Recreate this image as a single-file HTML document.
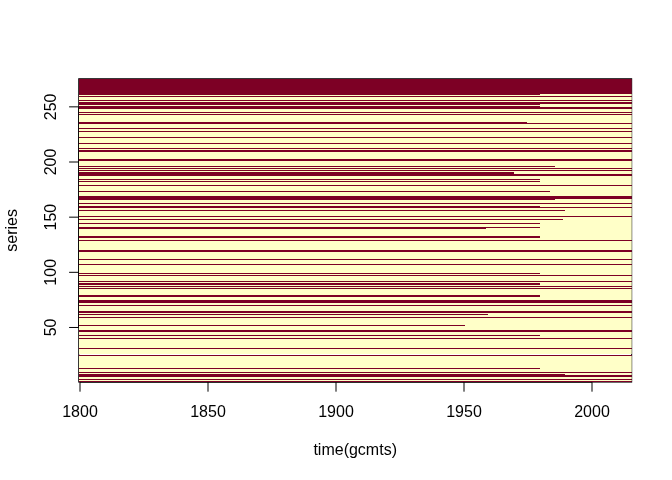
<!DOCTYPE html>
<html><head><meta charset="utf-8"><title>image plot</title>
<style>
html,body{margin:0;padding:0;background:#fff;overflow:hidden;}
svg{display:block;}
g.t{opacity:0.999;}
text{font-family:"Liberation Sans",Arial,Helvetica,sans-serif;font-size:16px;fill:#000;}
</style></head>
<body>
<svg width="672" height="480" viewBox="0 0 672 480">
<defs><clipPath id="pr"><rect x="79" y="79" width="552.68" height="303.08"/></clipPath></defs>
<rect x="0" y="0" width="672" height="480" fill="#fff"/>
<rect x="78.72" y="78.72" width="552.96" height="303.36" fill="none" stroke="#000" stroke-width="1"/>
<g stroke="#000" stroke-width="1" fill="none">
<line x1="80.000" y1="382.08" x2="592.000" y2="382.08"/>
<line x1="78.72" y1="327.475" x2="78.72" y2="106.850"/>
<line x1="80.000" y1="382.08" x2="80.000" y2="391.68"/>
<line x1="208.000" y1="382.08" x2="208.000" y2="391.68"/>
<line x1="336.000" y1="382.08" x2="336.000" y2="391.68"/>
<line x1="464.000" y1="382.08" x2="464.000" y2="391.68"/>
<line x1="592.000" y1="382.08" x2="592.000" y2="391.68"/>
<line x1="78.72" y1="327.475" x2="69.12" y2="327.475"/>
<line x1="78.72" y1="272.319" x2="69.12" y2="272.319"/>
<line x1="78.72" y1="217.162" x2="69.12" y2="217.162"/>
<line x1="78.72" y1="162.006" x2="69.12" y2="162.006"/>
<line x1="78.72" y1="106.850" x2="69.12" y2="106.850"/>
</g>
<g clip-path="url(#pr)">
<g shape-rendering="crispEdges">
<g fill="#FFFFC8">
<rect x="78" y="94" width="555" height="2"/>
<rect x="78" y="97" width="555" height="3"/>
<rect x="78" y="101" width="555" height="1"/>
<rect x="78" y="104" width="555" height="3"/>
<rect x="78" y="109" width="555" height="3"/>
<rect x="78" y="113" width="555" height="1"/>
<rect x="78" y="115" width="555" height="8"/>
<rect x="78" y="124" width="555" height="4"/>
<rect x="78" y="129" width="555" height="2"/>
<rect x="78" y="132" width="555" height="5"/>
<rect x="78" y="138" width="555" height="5"/>
<rect x="78" y="144" width="555" height="4"/>
<rect x="78" y="149" width="555" height="1"/>
<rect x="78" y="152" width="555" height="7"/>
<rect x="78" y="161" width="555" height="7"/>
<rect x="78" y="169" width="555" height="1"/>
<rect x="78" y="171" width="555" height="3"/>
<rect x="78" y="176" width="555" height="9"/>
<rect x="78" y="186" width="555" height="10"/>
<rect x="78" y="199" width="555" height="4"/>
<rect x="78" y="204" width="555" height="3"/>
<rect x="78" y="208" width="555" height="8"/>
<rect x="78" y="217" width="555" height="23"/>
<rect x="78" y="241" width="555" height="9"/>
<rect x="78" y="252" width="555" height="7"/>
<rect x="78" y="260" width="555" height="4"/>
<rect x="78" y="265" width="555" height="10"/>
<rect x="78" y="276" width="555" height="5"/>
<rect x="78" y="282" width="555" height="4"/>
<rect x="78" y="287" width="555" height="1"/>
<rect x="78" y="289" width="555" height="11"/>
<rect x="78" y="303" width="555" height="2"/>
<rect x="78" y="306" width="555" height="5"/>
<rect x="78" y="313" width="555" height="4"/>
<rect x="78" y="318" width="555" height="12"/>
<rect x="78" y="332" width="555" height="6"/>
<rect x="78" y="339" width="555" height="9"/>
<rect x="78" y="349" width="555" height="5"/>
<rect x="78" y="356" width="555" height="16"/>
<rect x="78" y="373" width="555" height="2"/>
<rect x="78" y="377" width="555" height="2"/>
<rect x="78" y="380" width="555" height="1"/>
</g>
<g fill="#7D0025">
<rect x="78" y="78" width="555" height="16"/>
<rect x="78" y="94" width="462" height="1"/>
<rect x="78" y="96" width="555" height="1"/>
<rect x="78" y="100" width="555" height="1"/>
<rect x="78" y="102" width="555" height="2"/>
<rect x="78" y="104" width="462" height="1"/>
<rect x="78" y="106" width="462" height="1"/>
<rect x="78" y="107" width="555" height="2"/>
<rect x="78" y="112" width="555" height="1"/>
<rect x="78" y="114" width="555" height="1"/>
<rect x="78" y="122" width="449" height="1"/>
<rect x="78" y="123" width="555" height="1"/>
<rect x="78" y="128" width="555" height="1"/>
<rect x="78" y="131" width="555" height="1"/>
<rect x="78" y="137" width="555" height="1"/>
<rect x="78" y="143" width="555" height="1"/>
<rect x="78" y="148" width="555" height="1"/>
<rect x="78" y="150" width="555" height="2"/>
<rect x="78" y="159" width="555" height="2"/>
<rect x="78" y="166" width="477" height="1"/>
<rect x="78" y="168" width="555" height="1"/>
<rect x="78" y="170" width="555" height="1"/>
<rect x="78" y="172" width="436" height="2"/>
<rect x="78" y="174" width="555" height="2"/>
<rect x="78" y="179" width="462" height="1"/>
<rect x="78" y="181" width="462" height="1"/>
<rect x="78" y="185" width="555" height="1"/>
<rect x="78" y="191" width="472" height="1"/>
<rect x="78" y="196" width="555" height="3"/>
<rect x="78" y="199" width="477" height="1"/>
<rect x="78" y="203" width="555" height="1"/>
<rect x="78" y="206" width="462" height="1"/>
<rect x="78" y="207" width="555" height="1"/>
<rect x="78" y="210" width="487" height="1"/>
<rect x="78" y="216" width="555" height="1"/>
<rect x="78" y="219" width="485" height="1"/>
<rect x="78" y="223" width="462" height="1"/>
<rect x="78" y="227" width="462" height="1"/>
<rect x="78" y="228" width="408" height="1"/>
<rect x="78" y="236" width="462" height="2"/>
<rect x="78" y="240" width="555" height="1"/>
<rect x="78" y="250" width="555" height="2"/>
<rect x="78" y="259" width="555" height="1"/>
<rect x="78" y="264" width="555" height="1"/>
<rect x="78" y="273" width="462" height="1"/>
<rect x="78" y="275" width="555" height="1"/>
<rect x="78" y="281" width="555" height="1"/>
<rect x="78" y="283" width="462" height="2"/>
<rect x="78" y="286" width="555" height="1"/>
<rect x="78" y="288" width="555" height="1"/>
<rect x="78" y="295" width="462" height="2"/>
<rect x="78" y="300" width="555" height="3"/>
<rect x="78" y="305" width="555" height="1"/>
<rect x="78" y="311" width="555" height="2"/>
<rect x="78" y="314" width="410" height="1"/>
<rect x="78" y="317" width="555" height="1"/>
<rect x="78" y="325" width="387" height="1"/>
<rect x="78" y="330" width="555" height="2"/>
<rect x="78" y="335" width="462" height="1"/>
<rect x="78" y="338" width="555" height="1"/>
<rect x="78" y="348" width="555" height="1"/>
<rect x="78" y="355" width="555" height="1"/>
<rect x="78" y="368" width="462" height="1"/>
<rect x="78" y="372" width="555" height="1"/>
<rect x="78" y="374" width="487" height="1"/>
<rect x="78" y="375" width="555" height="2"/>
<rect x="78" y="379" width="555" height="1"/>
<rect x="78" y="381" width="555" height="2"/>
</g>
</g>
</g>
<g class="t">
<text x="80.00" y="417" text-anchor="middle">1800</text>
<text x="208.00" y="417" text-anchor="middle">1850</text>
<text x="336.00" y="417" text-anchor="middle">1900</text>
<text x="464.00" y="417" text-anchor="middle">1950</text>
<text x="592.00" y="417" text-anchor="middle">2000</text>
<text transform="translate(56 327.48) rotate(-90)" text-anchor="middle">50</text>
<text transform="translate(56 272.32) rotate(-90)" text-anchor="middle">100</text>
<text transform="translate(56 217.16) rotate(-90)" text-anchor="middle">150</text>
<text transform="translate(56 162.01) rotate(-90)" text-anchor="middle">200</text>
<text transform="translate(56 106.85) rotate(-90)" text-anchor="middle">250</text>
<text x="355.2" y="455" text-anchor="middle">time(gcmts)</text>
<text transform="translate(17 230.4) rotate(-90)" text-anchor="middle">series</text>
</g>
</svg>
</body></html>
